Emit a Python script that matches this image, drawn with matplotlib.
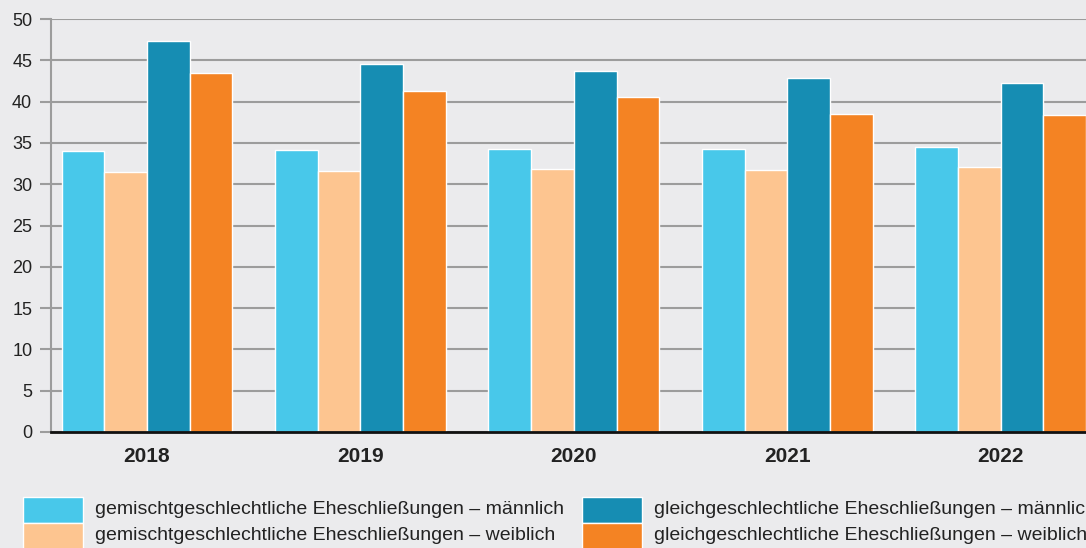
import matplotlib
matplotlib.use("Agg")
import matplotlib.pyplot as plt
from matplotlib.patches import Rectangle
import numpy as np

years = ["2018", "2019", "2020", "2021", "2022"]
series_labels = [
    "gemischtgeschlechtliche Eheschließungen – männlich",
    "gemischtgeschlechtliche Eheschließungen – weiblich",
    "gleichgeschlechtliche Eheschließungen – männlich",
    "gleichgeschlechtliche Eheschließungen – weiblich",
]
mixed_male = [34.0, 34.1, 34.3, 34.3, 34.5]
mixed_female = [31.5, 31.6, 31.8, 31.7, 32.1]
same_male = [47.3, 44.5, 43.7, 42.9, 42.2]
same_female = [43.5, 41.3, 40.6, 38.5, 38.4]
series = [mixed_male, mixed_female, same_male, same_female]
colors = ["#48C8EA", "#FDC590", "#168DB3", "#F48323"]
yticks = [0, 5, 10, 15, 20, 25, 30, 35, 40, 45, 50]

plt.rcParams['font.family'] = ['Liberation Sans', 'DejaVu Sans']
bg = "#EBEBED"
W, H = 1086, 548
fig = plt.figure(figsize=(W / 100, H / 100), dpi=100, facecolor=bg)
ax = fig.add_axes([51 / W, 1 - 432 / H, 1 - 51 / W, (432 - 19) / H])
ax.set_facecolor(bg)

x = np.arange(len(years))
bw = 0.2
for i, (vals, c) in enumerate(zip(series, colors)):
    ax.bar(x + (i - 1.5) * bw, vals, width=bw, color=c, edgecolor="white",
           linewidth=1.0, zorder=3)

ax.set_xlim(-0.45, 4.4)
ax.set_ylim(0, 50)
ax.set_yticks(yticks)
ax.set_yticklabels([str(t) for t in yticks], fontsize=13, color="#222222")
ax.yaxis.grid(True, color="#9C9C9C", linewidth=1.5, zorder=0)
ax.tick_params(axis="y", length=8, width=1.5, color="#9C9C9C", pad=5.5)
ax.set_xticks(x)
ax.set_xticklabels(years, fontsize=15, fontweight="bold", color="#222222")
ax.tick_params(axis="x", length=0, pad=11)
for s in ["top", "right"]:
    ax.spines[s].set_visible(False)
ax.spines["left"].set_color("#9C9C9C")
ax.spines["left"].set_linewidth(1.5)
ax.spines["bottom"].set_color("#111111")
ax.spines["bottom"].set_linewidth(2)
ax.spines["bottom"].set_zorder(5)

# legend, drawn manually in figure pixels
pos = [(23, 497), (23, 523), (582, 497), (582, 523)]
for (px, py), lab, c in zip(pos, series_labels, colors):
    fig.patches.append(Rectangle((px / W, 1 - (py + 26) / H), 60 / W, 26 / H,
                                 transform=fig.transFigure, facecolor=c,
                                 edgecolor="white", linewidth=1.0))
    fig.text((px + 72) / W, 1 - (py + 13) / H, lab, fontsize=14,
             color="#222222", va="center", ha="left")

fig.savefig("out.png", dpi=100, facecolor=bg)
